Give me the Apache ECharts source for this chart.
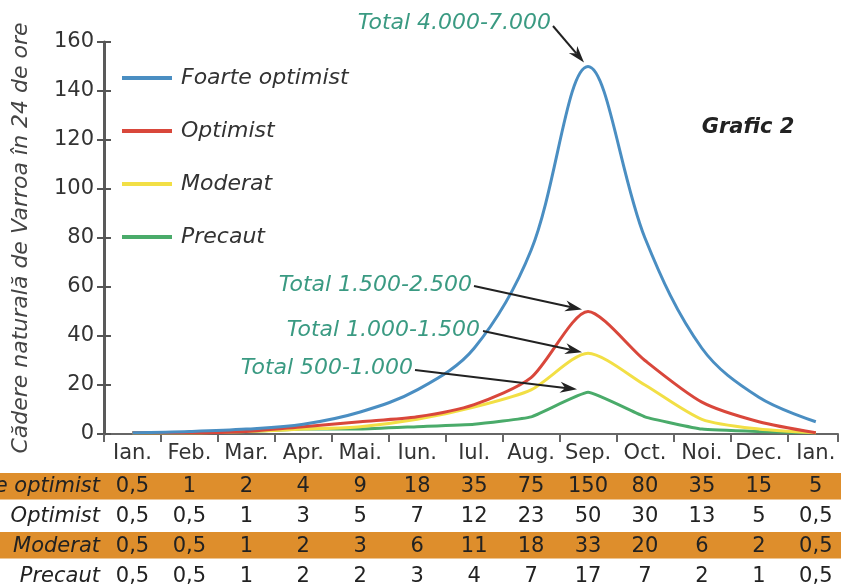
<!DOCTYPE html>
<html><head><meta charset="utf-8">
<script src="https://cdn.jsdelivr.net/npm/echarts@6.0.0/dist/echarts.min.js"></script>
<style>html,body{margin:0;padding:0;background:#fff}#c{width:841px;height:587px}</style>
</head><body><div id="c"></div>
<script>
// ---- data ----
const months = ['Ian.','Feb.','Mar.','Apr.','Mai.','Iun.','Iul.','Aug.','Sep.','Oct.','Noi.','Dec.','Ian.'];
const seriesNames = ['Foarte optimist','Optimist','Moderat','Precaut'];
const foarteOptimist = [0.5,1,2,4,9,18,35,75,150,80,35,15,5];
const optimist = [0.5,0.5,1,3,5,7,12,23,50,30,13,5,0.5];
const moderat = [0.5,0.5,1,2,3,6,11,18,33,20,6,2,0.5];
const precaut = [0.5,0.5,1,2,2,3,4,7,17,7,2,1,0.5];
const yMin = 0, yMax = 160, yStep = 20;
const totals = ['Total 4.000-7.000','Total 1.500-2.500','Total 1.000-1.500','Total 500-1.000'];
const yTitle = 'Cădere naturală de Varroa în 24 de ore';
const chartTitle = 'Grafic 2';

// ---- style ----
const FONT = 'DejaVu Sans';
const colors = ['#4a8ec2','#d9473b','#f2df45','#4aab6a'];
const smooths = [0.35,0.25,0.25,0.12];
const rows = [foarteOptimist, optimist, moderat, precaut];
const fmt = v => String(v).replace('.', ',');
const rowMargins = [42, 72, 102, 132];
// the month bands run past the right edge of the canvas: axis domain in "band units"
const X0 = 0, X1 = 12.89;            // band-boundary domain (0 = left edge of first month)
const labelAt = (v, arr) => {         // labels sit on band centres (half units)
  const k = Math.round(v * 2);
  if (Math.abs(v * 2 - k) > 1e-6 || k % 2 !== 1) return '';
  const i = (k - 1) / 2;
  return i < arr.length ? arr[i] : '';
};

const chart = echarts.init(document.getElementById('c'), null, {renderer:'canvas'});

const xAxes = [
  { // 0: data axis for the lines (month index)
    type:'value', min:X0 - 0.5, max:X1 - 0.5, gridIndex:0, show:false, splitLine:{show:false}
  },
  { // 1: axis line + boundary ticks
    type:'value', min:X0, max:X1, interval:1, gridIndex:0, position:'bottom',
    axisLine:{show:true, onZero:false, lineStyle:{color:'#666', width:2}},
    axisTick:{show:true, length:8, lineStyle:{color:'#666', width:2}},
    axisLabel:{show:false}, splitLine:{show:false}
  },
  { // 2: month labels
    type:'value', min:X0, max:X1, interval:0.5, gridIndex:0, position:'bottom',
    axisLine:{show:false, onZero:false}, axisTick:{show:false}, splitLine:{show:false},
    axisLabel:{margin:9, color:'#333', fontFamily:FONT, fontSize:21, showMinLabel:true, showMaxLabel:true,
      formatter: v => labelAt(v, months)}
  }
];
rows.forEach((arr, r) => {
  xAxes.push({
    type:'value', min:X0, max:X1, interval:0.5, gridIndex:0, position:'bottom',
    axisLine:{show:false, onZero:false}, axisTick:{show:false}, splitLine:{show:false},
    axisLabel:{margin:rowMargins[r], color:'#222', fontFamily:FONT, fontSize:21,
      formatter: v => { const s = labelAt(v, arr); return s === '' ? '' : fmt(s); }}
  });
});

const series = [];
[3,2,1,0].forEach(k => {
  series.push({
    name: seriesNames[k], type:'line', data: rows[k].map((v, i) => [i, v]), xAxisIndex:0, yAxisIndex:0,
    smooth: smooths[k], showSymbol:false, symbol:'none',
    lineStyle:{color:colors[k], width:3}, itemStyle:{color:colors[k]},
    z: 2 + (3-k)
  });
});

chart.setOption({
  animation:false,
  backgroundColor:'#fff',
  grid:{left:104, top:42, right:0, height:393},
  legend:{
    data: seriesNames, orient:'vertical', left:117, top:62,
    icon:'rect', itemWidth:50, itemHeight:4, itemGap:31,
    textStyle:{fontFamily:FONT, fontStyle:'italic', fontSize:22, color:'#333', lineHeight:22, padding:[0,0,0,4]}
  },
  xAxis: xAxes,
  yAxis:[{
    type:'value', min:yMin, max:yMax, interval:yStep, position:'left',
    name: yTitle, nameLocation:'middle', nameRotate:90, nameGap:72,
    nameTextStyle:{fontFamily:FONT, fontStyle:'italic', fontSize:22, color:'#444'},
    axisLine:{show:true, onZero:false, lineStyle:{color:'#5a5a5a', width:3}},
    axisTick:{show:true, length:7, lineStyle:{color:'#555', width:2}},
    axisLabel:{margin:10, color:'#333', fontFamily:FONT, fontSize:21},
    splitLine:{show:false}
  },{
    type:'value', min:yMin, max:yMax, interval:yStep, position:'left',
    axisLine:{show:false, onZero:false}, axisLabel:{show:false}, splitLine:{show:false},
    axisTick:{show:true, inside:true, length:7, lineStyle:{color:'#555', width:2}}
  }],
  series: series
});

// ---- annotations ----
function arrow(x1,y1,x2,y2){
  const dx=x2-x1, dy=y2-y1, L=Math.hypot(dx,dy), ux=dx/L, uy=dy/L;
  const hl=17, hw=5.5;
  const bx=x2-ux*hl, by=y2-uy*hl;
  const nx=x2-ux*hl*0.7, ny=y2-uy*hl*0.7;
  return [
    {type:'line', shape:{x1:x1,y1:y1,x2:nx,y2:ny}, style:{stroke:'#222', lineWidth:2}, z:20},
    {type:'polygon', shape:{points:[[x2,y2],[bx-uy*hw,by+ux*hw],[nx,ny],[bx+uy*hw,by-ux*hw]]}, style:{fill:'#222'}, z:20}
  ];
}
const peakIdx = 8;
const tipOffsets = [[-4,-4],[-6,-2],[-6,-1],[-11,-3]];
const textAnchors = [[551,23],[472,285],[480,330],[413,368]];
const lineStarts = [[553,26],[474,286],[483,331],[415,370]];
const graphics = [];
[[473,26.5],[532,26.5]].forEach(b => {
  graphics.push({type:'rect', shape:{x:0,y:b[0],width:841,height:b[1]}, style:{fill:'#de8e2c'}, z:-10, silent:true});
});
rows.forEach((arr, r) => {
  graphics.push({type:'text', x:100, y:487 + r*30, style:{text:seriesNames[r], fill:'#222',
    font:'italic 21px "'+FONT+'"', align:'right', verticalAlign:'middle'}, z:5});
});
rows.forEach((arr, k) => {
  const p = chart.convertToPixel({xAxisIndex:0, yAxisIndex:0}, [peakIdx, arr[peakIdx]]);
  const tx = p[0] + tipOffsets[k][0], ty = p[1] + tipOffsets[k][1];
  graphics.push({type:'text', x:textAnchors[k][0], y:textAnchors[k][1], style:{text:totals[k], fill:'#3a9a82',
    font:'italic 22px "'+FONT+'"', align:'right', verticalAlign:'middle'}, z:20});
  arrow(lineStarts[k][0], lineStarts[k][1], tx, ty).forEach(g => graphics.push(g));
});
graphics.push({type:'text', x:748, y:128, style:{text:chartTitle, fill:'#222',
  font:'italic bold 21px "'+FONT+'"', align:'center', verticalAlign:'middle'}, z:20});
chart.setOption({graphic: graphics});
</script></body></html>
